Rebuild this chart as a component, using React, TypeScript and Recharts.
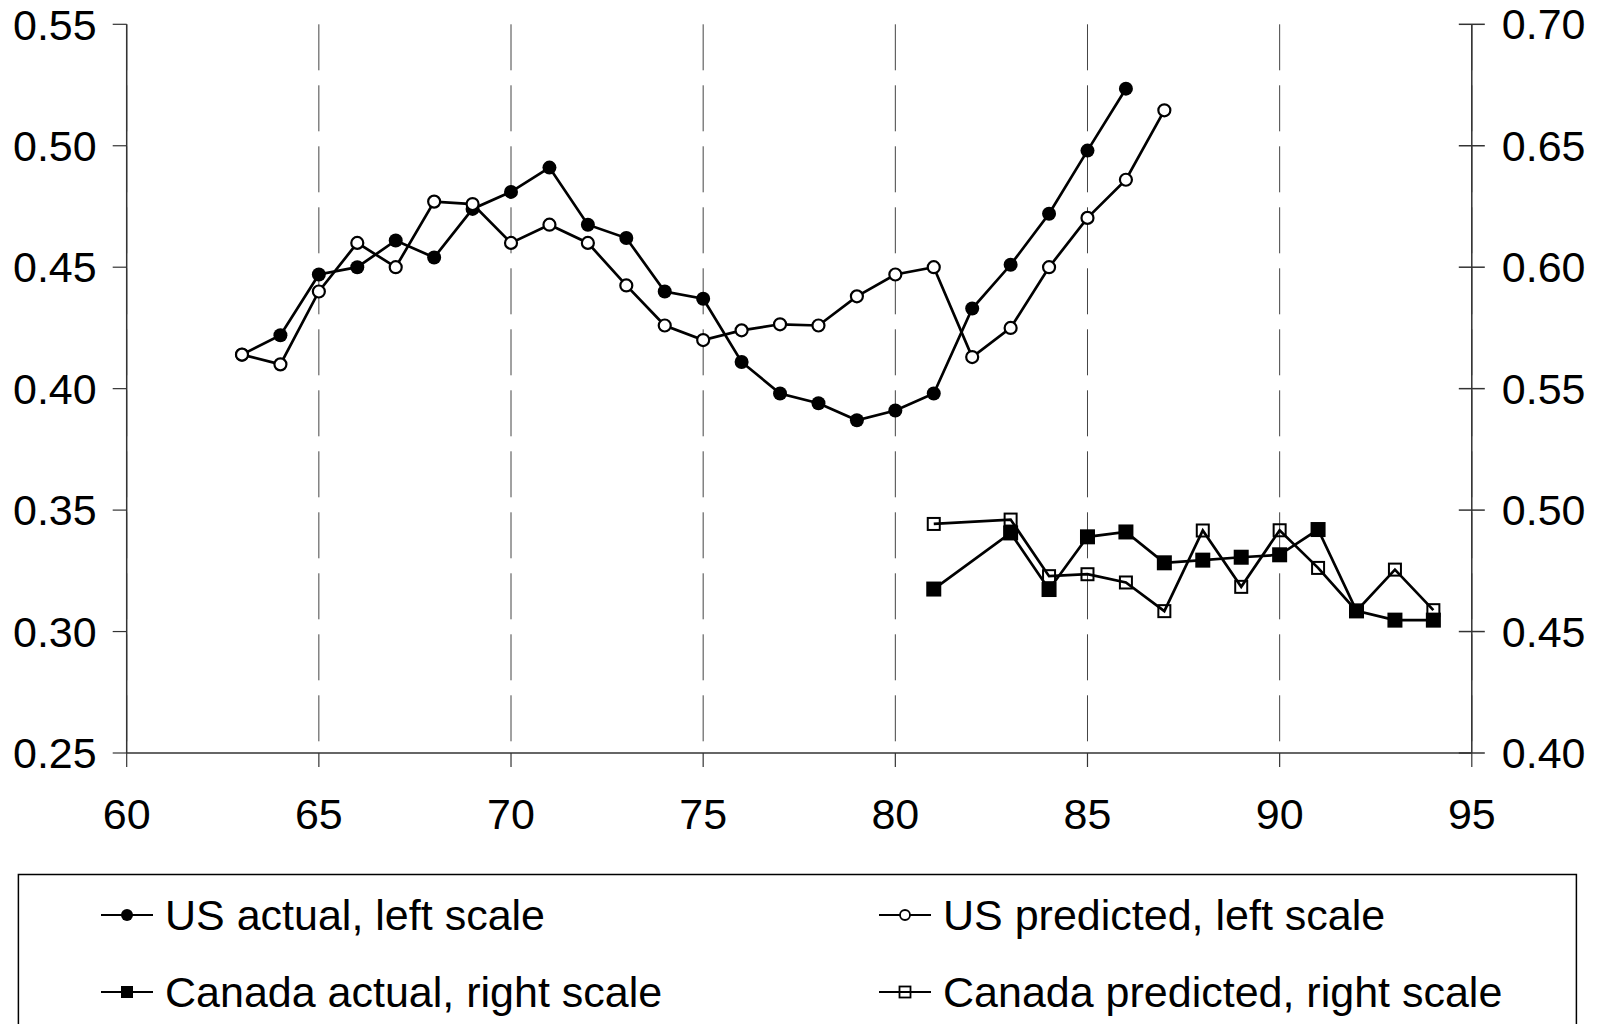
import React from 'react';
import { LineChart, Line, XAxis, YAxis, CartesianGrid } from 'recharts';

const usYears = [63, 64, 65, 66, 67, 68, 69, 70, 71, 72, 73, 74, 75, 76, 77, 78, 79, 80, 81, 82, 83, 84, 85, 86, 87];
const usActual = [
    0.414, 0.422, 0.447, 0.45, 0.461, 0.454, 0.474, 0.481, 0.491, 0.4675, 0.462, 0.44, 0.437,
    0.411, 0.398, 0.394, 0.387, 0.391, 0.398, 0.433, 0.451, 0.472, 0.498, 0.5235, null,
];
const usPredicted = [
    0.414, 0.41, 0.44, 0.46, 0.45, 0.477, 0.476, 0.46, 0.4675, 0.46, 0.4425, 0.426, 0.42,
    0.424, 0.4265, 0.426, 0.438, 0.447, 0.45, 0.413, 0.425, 0.45, 0.4703, 0.486, 0.5146,
];

const canYears = [81, 83, 84, 85, 86, 87, 88, 89, 90, 91, 92, 93, 94];
const canActual = [0.4675, 0.4906, 0.4673, 0.489, 0.491, 0.4783, 0.4794, 0.4806, 0.4816, 0.492, 0.4585, 0.4547, 0.4547];
const canPredicted = [0.4943, 0.4961, 0.4728, 0.4736, 0.4702, 0.4584, 0.4916, 0.4684, 0.4917, 0.4762, 0.4585, 0.4755, 0.4588];

const xTicks = [60, 65, 70, 75, 80, 85, 90, 95];
const leftTicks = [0.25, 0.3, 0.35, 0.4, 0.45, 0.5, 0.55];
const rightTicks = [0.4, 0.45, 0.5, 0.55, 0.6, 0.65, 0.7];

const legendItems = [
    { label: 'US actual, left scale', marker: 'dotFilled', x: 101, y: 915 },
    { label: 'US predicted, left scale', marker: 'dotOpen', x: 879, y: 915 },
    { label: 'Canada actual, right scale', marker: 'sqFilled', x: 101, y: 992 },
    { label: 'Canada predicted, right scale', marker: 'sqOpen', x: 879, y: 992 },
];

const FONT = '"Liberation Sans", Arial, sans-serif';
const FS = 43;

const usData = usYears.map((year, i) => ({ year, actual: usActual[i], predicted: usPredicted[i] }));
const canData = canYears.map((year, i) => ({ year, actual: canActual[i], predicted: canPredicted[i] }));

const tickStyle = { fontSize: FS, fontFamily: FONT, fill: '#000' };

function SquareDot(props: any) {
    const { cx, cy, filled } = props;
    if (cx == null || cy == null) return null;
    if (filled) {
        return <rect x={cx - 7.5} y={cy - 7.5} width={15} height={15} fill="#000" />;
    }
    return <rect x={cx - 6} y={cy - 6} width={12} height={12} fill="none" stroke="#000" strokeWidth={2} />;
}

function RightTick(props: any) {
    const { x, y, payload } = props;
    const axisX = x - 30;
    return (
        <g>
            <line x1={axisX - 13} x2={axisX + 13} y1={y} y2={y} stroke="#333" strokeWidth={1.5} />
            <text x={x} y={y} dominantBaseline="central" textAnchor="start" {...tickStyle}>
                {Number(payload.value).toFixed(2)}
            </text>
        </g>
    );
}

function LegendMarker({ kind, x, y }: { kind: string; x: number; y: number }) {
    const cx = x + 26;
    let m = null;
    if (kind === 'dotFilled') m = <circle cx={cx} cy={y} r={6} fill="#000" />;
    if (kind === 'dotOpen') m = <circle cx={cx} cy={y} r={5} fill="#fff" stroke="#000" strokeWidth={1.8} />;
    if (kind === 'sqFilled') m = <rect x={cx - 6} y={y - 6} width={12} height={12} fill="#000" />;
    if (kind === 'sqOpen') m = <rect x={cx - 5.5} y={y - 5.5} width={11} height={11} fill="none" stroke="#000" strokeWidth={1.8} />;
    return (
        <g>
            <line x1={x} x2={x + 52} y1={y} y2={y} stroke="#000" strokeWidth={2.2} />
            {m}
        </g>
    );
}

export default function App() {
    return (
        <div style={{ position: 'absolute', left: 0, top: 0, width: 1600, height: 1024, background: '#fff' }}>
            <LineChart width={1600} height={1024} margin={{ top: 24.3, right: 0, bottom: 171, left: 0 }}>
                <CartesianGrid horizontal={false} stroke="#444" strokeDasharray="46 15" />
                <XAxis
                    dataKey="year"
                    type="number"
                    domain={[60, 95]}
                    ticks={xTicks}
                    height={100}
                    tick={tickStyle}
                    tickSize={14}
                    tickMargin={31}
                    axisLine={{ stroke: '#333', strokeWidth: 1.5 }}
                    tickLine={{ stroke: '#333', strokeWidth: 1.2 }}
                />
                <YAxis
                    yAxisId="left"
                    orientation="left"
                    domain={[0.25, 0.55]}
                    ticks={leftTicks}
                    width={126.7}
                    tick={tickStyle}
                    tickSize={14}
                    tickMargin={16}
                    tickFormatter={(v: number) => v.toFixed(2)}
                    axisLine={{ stroke: '#333', strokeWidth: 1.5 }}
                    tickLine={{ stroke: '#333', strokeWidth: 1.2 }}
                />
                <YAxis
                    yAxisId="right"
                    orientation="right"
                    domain={[0.4, 0.7]}
                    ticks={rightTicks}
                    width={128.2}
                    tick={<RightTick />}
                    tickSize={14}
                    tickMargin={16}
                    tickLine={false}
                    axisLine={{ stroke: '#333', strokeWidth: 1.5 }}
                />
                <Line
                    yAxisId="left"
                    data={usData}
                    dataKey="actual"
                    stroke="#000"
                    strokeWidth={2.7}
                    dot={{ r: 7, fill: '#000', stroke: '#000', strokeWidth: 0 }}
                    isAnimationActive={false}
                />
                <Line
                    yAxisId="left"
                    data={usData}
                    dataKey="predicted"
                    stroke="#000"
                    strokeWidth={2.7}
                    dot={{ r: 6, fill: '#fff', stroke: '#000', strokeWidth: 2.2 }}
                    isAnimationActive={false}
                />
                <Line
                    yAxisId="right"
                    data={canData}
                    dataKey="actual"
                    stroke="#000"
                    strokeWidth={2.7}
                    dot={(p: any) => <SquareDot key={`ca-${p.index}`} {...p} filled />}
                    isAnimationActive={false}
                />
                <Line
                    yAxisId="right"
                    data={canData}
                    dataKey="predicted"
                    stroke="#000"
                    strokeWidth={2.7}
                    dot={(p: any) => <SquareDot key={`cp-${p.index}`} {...p} filled={false} />}
                    isAnimationActive={false}
                />
            </LineChart>
            <svg width={1600} height={1024} style={{ position: 'absolute', left: 0, top: 0, pointerEvents: 'none' }}>
                <rect x={18.4} y={874.5} width={1558} height={300} fill="none" stroke="#000" strokeWidth={1.5} />
                {legendItems.map((it) => (
                    <g key={it.label}>
                        <LegendMarker kind={it.marker} x={it.x} y={it.y} />
                        <text x={it.x + 64} y={it.y} dominantBaseline="central" fontSize={FS} fontFamily={FONT} fill="#000">
                            {it.label}
                        </text>
                    </g>
                ))}
            </svg>
        </div>
    );
}
